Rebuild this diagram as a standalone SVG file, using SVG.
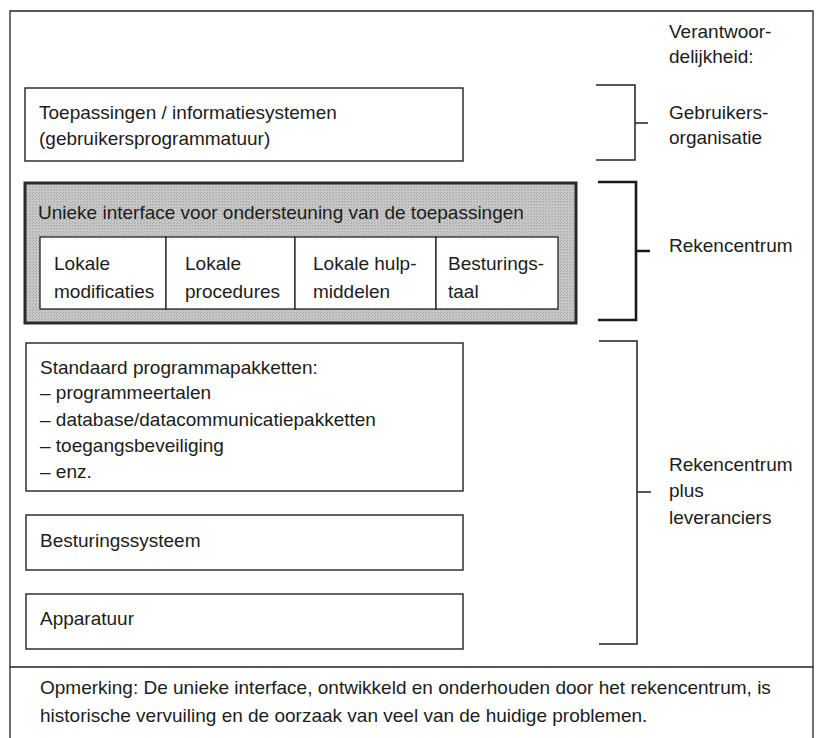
<svg xmlns="http://www.w3.org/2000/svg" width="820" height="738" viewBox="0 0 820 738">
  <style>
    text { font-family: "Liberation Sans", Arial, sans-serif; font-size: 19px; fill: #1c1c1c; }
    .box { fill: #ffffff; stroke: #222; stroke-width: 1.4; }
    .cell { fill: #ffffff; stroke: #222; stroke-width: 1.3; }
    .shaded { fill: url(#dots); stroke: #2a2a2a; stroke-width: 3; }
    .frame { fill: none; stroke: #222; stroke-width: 1.3; }
    .brace { fill: none; stroke: #222; stroke-width: 1.5; }
    .brace-bold { fill: none; stroke: #1a1a1a; stroke-width: 2.6; }
  </style>
  <defs>
    <!-- fine halftone screen for the shaded interface layer -->
    <pattern id="dots" width="3" height="3" patternUnits="userSpaceOnUse">
      <rect width="3" height="3" fill="#c8c8c8"/>
      <rect x="0" y="0" width="1" height="1" fill="#a0a0a0"/>
      <rect x="2" y="1" width="1" height="1" fill="#acacac"/>
    </pattern>
  </defs>

  <rect width="820" height="738" fill="#ffffff"/>

  <!-- outer frame and the divider above the remark -->
  <g id="frame">
    <path class="frame" d="M10,740 V11 H813 V740"/>
    <line class="frame" x1="10" y1="667" x2="813" y2="667"/>
  </g>

  <!-- heading of the responsibility column -->
  <g id="heading">
    <text x="669" y="38">Verantwoor-</text>
    <text x="669" y="63">delijkheid:</text>
  </g>

  <g id="applications">
    <rect class="box" x="25" y="88" width="438" height="73"/>
    <text x="39" y="119">Toepassingen / informatiesystemen</text>
    <text x="39" y="145">(gebruikersprogrammatuur)</text>
  </g>

  <g id="interface">
    <rect class="shaded" x="25" y="183" width="551" height="140"/>
    <text x="38" y="219">Unieke interface voor ondersteuning van de toepassingen</text>
    <g id="cell-modifications">
      <rect class="cell" x="40" y="237" width="126" height="72"/>
      <text x="54" y="270">Lokale</text>
      <text x="54" y="298">modificaties</text>
    </g>
    <g id="cell-procedures">
      <rect class="cell" x="166" y="237" width="129" height="72"/>
      <text x="185" y="270">Lokale</text>
      <text x="185" y="298">procedures</text>
    </g>
    <g id="cell-tools">
      <rect class="cell" x="295" y="237" width="141" height="72"/>
      <text x="313" y="270">Lokale  hulp-</text>
      <text x="313" y="298">middelen</text>
    </g>
    <g id="cell-control-language">
      <rect class="cell" x="436" y="237" width="122" height="72"/>
      <text x="448" y="270">Besturings-</text>
      <text x="448" y="298">taal</text>
    </g>
  </g>

  <g id="standard-packages">
    <rect class="box" x="26" y="343" width="437" height="148"/>
    <text x="40" y="374">Standaard programmapakketten:</text>
    <text x="40" y="399">– programmeertalen</text>
    <text x="40" y="426">– database/datacommunicatiepakketten</text>
    <text x="40" y="452">– toegangsbeveiliging</text>
    <text x="40" y="478">– enz.</text>
  </g>

  <g id="operating-system">
    <rect class="box" x="26" y="515" width="437" height="55"/>
    <text x="40" y="547">Besturingssysteem</text>
  </g>

  <g id="hardware">
    <rect class="box" x="26" y="594" width="437" height="55"/>
    <text x="40" y="625">Apparatuur</text>
  </g>

  <!-- brackets grouping the layers by responsible party -->
  <g id="connectors">
    <path class="brace" d="M596,85 H635 V160 H596 M635,123 H648"/>
    <path class="brace-bold" d="M598,182 H636 V320 H598 M636,251 H650"/>
    <path class="brace" d="M599,341 H637 V644 H599 M637,492 H651"/>
  </g>

  <g id="user-organisation">
    <text x="669" y="119">Gebruikers-</text>
    <text x="669" y="144">organisatie</text>
  </g>

  <g id="computer-centre">
    <text x="669" y="252">Rekencentrum</text>
  </g>

  <g id="centre-and-suppliers">
    <text x="669" y="471">Rekencentrum</text>
    <text x="669" y="497">plus</text>
    <text x="669" y="524">leveranciers</text>
  </g>

  <g id="remark">
    <text x="40" y="694">Opmerking: De unieke interface, ontwikkeld en onderhouden door het rekencentrum, is</text>
    <text x="40" y="722">historische vervuiling en de oorzaak van veel van de huidige problemen.</text>
  </g>
</svg>
